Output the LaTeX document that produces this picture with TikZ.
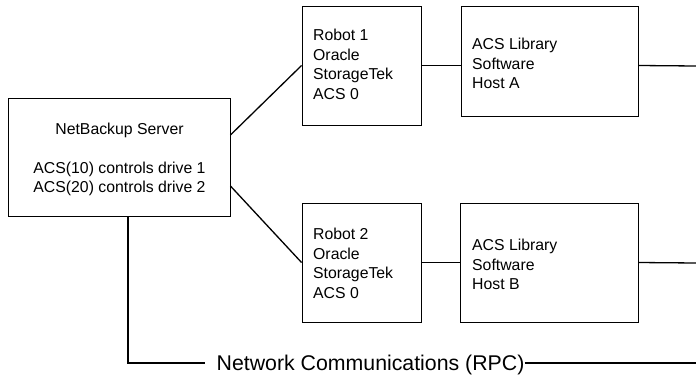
\documentclass[tikz,border=0pt]{standalone}
\usepackage{fontspec}
\setmainfont{Liberation Sans}
\begin{document}
\begin{tikzpicture}[x=1pt,y=-1pt,
  box/.style={draw=black, line width=0.9pt, inner sep=0pt, rectangle},
  txt/.style={inner sep=0pt, font=\fontsize{15.8}{19.4}\selectfont, align=left, anchor=north west},
  conn/.style={draw=black, line width=1.3pt}]
\useasboundingbox (0,0) rectangle (696,375);
% boxes
\node[box, minimum width=222pt, minimum height=118pt] (nb) at (119,157) {};
\node[box, minimum width=119pt, minimum height=119pt] (r1) at (361.5,65.5) {};
\node[box, minimum width=177pt, minimum height=110pt] (hA) at (549.5,61) {};
\node[box, minimum width=119pt, minimum height=119pt] (r2) at (361.5,262.5) {};
\node[box, minimum width=178pt, minimum height=119pt] (hB) at (549,262.5) {};
% texts
\node[txt, align=center, anchor=north] (nbt) at (119.5,122.8) {NetBackup Server\\[19.4pt]ACS(10) controls drive 1\\ACS(20) controls drive 2};
\node[txt] (r1t) at (313,29.3) {Robot 1\\Oracle\\StorageTek\\ACS 0};
\node[txt] (hAt) at (472,38.3) {ACS Library\\Software\\Host A};
\node[txt] (r2t) at (313,228.3) {Robot 2\\Oracle\\StorageTek\\ACS 0};
\node[txt] (hBt) at (472,239.3) {ACS Library\\Software\\Host B};
\node[inner sep=0pt, font=\fontsize{21.3}{25}\selectfont, anchor=base west] (net) at (216.5,370) {Network Communications (RPC)};
% coordinates
\coordinate (eA) at (696,66);
\coordinate (eB) at (696,263);
\coordinate (c1) at (128,363);
\coordinate (eN) at (696,363);
% connectors
\draw[conn] ([yshift=22pt]nb.east) -- (r1.west);
\draw[conn] ([yshift=-29pt]nb.east) -- (r2.west);
\draw[conn] (r1.east) -- (r1.east -| hA.west);
\draw[conn] (hA.east |- r1.east) -- (eA);
\draw[conn] (r2.east) -- (r2.east -| hB.west);
\draw[conn] (hB.east |- r2.east) -- (eB);
\draw[conn] (nb.south -| c1) -- (c1) -- ([xshift=-11.5pt]net.west |- c1);
\draw[conn] (net.east |- c1) -- (eN);
\end{tikzpicture}
\end{document}
